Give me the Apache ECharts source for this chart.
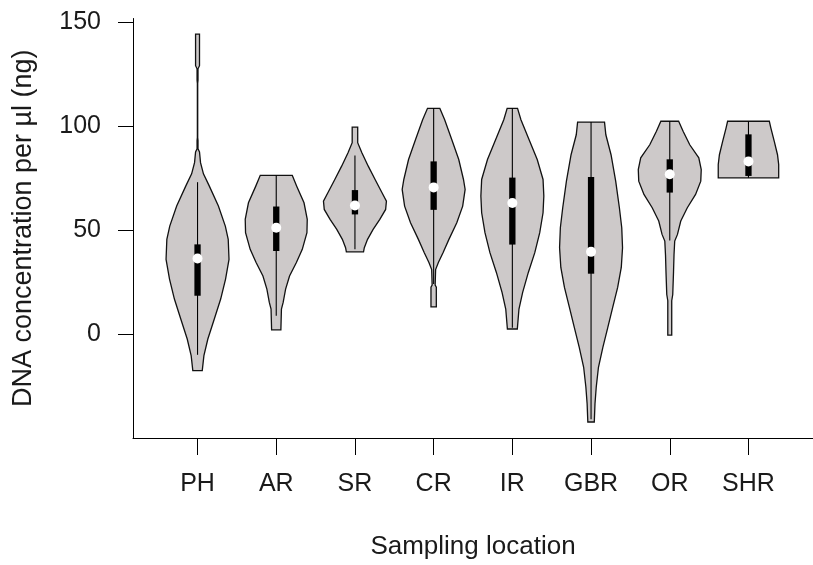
<!DOCTYPE html>
<html>
<head>
<meta charset="utf-8">
<script src="https://cdn.jsdelivr.net/npm/echarts@6/dist/echarts.min.js"></script>
<style>
  html, body { margin: 0; padding: 0; background: #fff; }
  #chart { width: 813px; height: 565px; }
</style>
</head>
<body>
<div id="chart"></div>
<script>
// Sampling locations along the x axis
const categories = ['PH', 'AR', 'SR', 'CR', 'IR', 'GBR', 'OR', 'SHR'];

// Box-plot summaries per location (ng/µl)
const medians     = [36.3, 51.1, 61.8, 70.5, 63.0, 39.5, 76.8, 83.0];
const q1          = [18.4, 39.9, 57.5, 59.7, 43.0, 29.0, 68.0, 76.0];
const q3          = [43.1, 61.3, 69.2, 83.0, 75.2, 75.5, 84.0, 96.0];
const whiskerLow  = [-10.0, 8.8, 40.7, 24.0, 3.0, -41.0, 45.0, 75.1];
const whiskerHigh = [73.0, 76.3, 85.8, 108.5, 108.5, 101.9, 102.3, 102.3];

// Kernel density outlines: concentration levels and scaled half-widths
const phLevels  = [144.2, 129, 127.5, 122, 120.5, 94.5, 93, 89, 87.5, 82.4, 77, 71.1, 61.5, 51.9, 45.5, 35.9, 26.4, 16.8, 7.2, -2.4, -10.4, -17.6];
const phWidths  = [0.025, 0.025, 0.006, 0.006, 0.002, 0.002, 0.006, 0.006, 0.025, 0.038, 0.075, 0.15, 0.265, 0.353, 0.39, 0.4, 0.356, 0.294, 0.213, 0.131, 0.081, 0.06];

const arLevels  = [76.3, 71.1, 63.1, 55.1, 48.7, 40.7, 34.4, 27.9, 21.6, 15.2, 12.0, 2.0];
const arWidths  = [0.203, 0.26, 0.353, 0.394, 0.39, 0.331, 0.256, 0.169, 0.119, 0.088, 0.066, 0.059];

const srLevels  = [99.5, 92, 87.1, 80.7, 74.3, 67.9, 63.9, 59.9, 55.1, 50.3, 45.5, 41.5, 39.5];
const srWidths  = [0.035, 0.035, 0.088, 0.169, 0.256, 0.344, 0.4, 0.39, 0.316, 0.231, 0.16, 0.119, 0.109];

const crLevels  = [108.5, 103, 93.4, 83.9, 74.3, 69.5, 61.5, 53.5, 45.5, 39.1, 34.4, 31, 23.5, 22.5, 13];
const crWidths  = [0.078, 0.14, 0.231, 0.319, 0.379, 0.4, 0.369, 0.294, 0.194, 0.119, 0.06, 0.025, 0.019, 0.034, 0.034];

const irLevels  = [108.5, 103, 93.4, 83.9, 74.3, 66.3, 58.3, 48.7, 39.1, 29.6, 20, 12, 2.4];
const irWidths  = [0.066, 0.109, 0.213, 0.316, 0.39, 0.4, 0.39, 0.348, 0.285, 0.203, 0.131, 0.084, 0.063];

const gbrLevels = [101.9, 95.8, 86.2, 73.5, 60.7, 51.1, 41.5, 32, 22.4, 12.8, 3.2, -6.4, -16, -25.5, -33.5, -42.3];
const gbrWidths = [0.171, 0.188, 0.254, 0.313, 0.36, 0.39, 0.4, 0.384, 0.338, 0.275, 0.213, 0.15, 0.094, 0.066, 0.05, 0.041];

const orLevels  = [102.3, 97.4, 91, 84.7, 79.1, 73.5, 67.1, 60.7, 54.3, 47.9, 44.7, 38, 30, 19, 16, -0.5];
const orWidths  = [0.113, 0.171, 0.254, 0.369, 0.4, 0.394, 0.328, 0.223, 0.14, 0.098, 0.063, 0.054, 0.048, 0.038, 0.025, 0.025];

const shrLevels = [102.3, 99, 92.6, 86.2, 81.5, 75.1];
const shrWidths = [0.265, 0.285, 0.328, 0.369, 0.384, 0.384];

// Y axis tick labels
const yTicks = [0, 50, 100, 150];

const outlines = [
  [phLevels, phWidths], [arLevels, arWidths], [srLevels, srWidths], [crLevels, crWidths],
  [irLevels, irWidths], [gbrLevels, gbrWidths], [orLevels, orWidths], [shrLevels, shrWidths]
];

const positions = categories.map((_, i) => i + 1);
const FONT = '"Liberation Sans", Arial, sans-serif';
const TEXT = '#1a1a1a';
const BOX_HALF = 0.04;

function renderViolin(params, api) {
  const i = params.dataIndex;
  const x = api.value(0);
  const [levels, widths] = outlines[i];
  const pts = [];
  for (let k = 0; k < levels.length; k++) pts.push(api.coord([x + widths[k], levels[k]]));
  for (let k = levels.length - 1; k >= 0; k--) pts.push(api.coord([x - widths[k], levels[k]]));

  const wTop = api.coord([x, whiskerHigh[i]]);
  const wBot = api.coord([x, whiskerLow[i]]);
  const bTL = api.coord([x - BOX_HALF, q3[i]]);
  const bBR = api.coord([x + BOX_HALF, q1[i]]);
  const med = api.coord([x, medians[i]]);

  return {
    type: 'group',
    children: [
      {
        type: 'polygon',
        shape: { points: pts },
        style: { fill: '#cdc9c9', stroke: '#111', lineWidth: 1.3 }
      },
      {
        type: 'line',
        shape: { x1: wTop[0], y1: wTop[1], x2: wBot[0], y2: wBot[1] },
        style: { stroke: '#000', lineWidth: 1.1 }
      },
      {
        type: 'rect',
        shape: { x: bTL[0], y: bTL[1], width: bBR[0] - bTL[0], height: bBR[1] - bTL[1] },
        style: { fill: '#000' }
      },
      {
        type: 'circle',
        shape: { cx: med[0], cy: med[1], r: 5 },
        style: { fill: '#fff' }
      }
    ]
  };
}

const chart = echarts.init(document.getElementById('chart'), null, { renderer: 'canvas' });
chart.setOption({
  animation: false,
  backgroundColor: '#fff',
  grid: { left: 133, top: 18.5, width: 692, height: 420.8 },
  xAxis: {
    type: 'value',
    min: 0.18,
    max: 8.82,
    name: 'Sampling location',
    nameLocation: 'middle',
    nameGap: 96,
    nameTextStyle: { fontFamily: FONT, fontSize: 26, color: TEXT },
    axisLine: { show: true, onZero: false, lineStyle: { color: '#000', width: 1 } },
    axisTick: { show: true, length: 17, lineStyle: { color: '#000' }, customValues: positions },
    axisLabel: {
      customValues: positions,
      margin: 34,
      fontFamily: FONT, fontSize: 25, color: TEXT,
      formatter: (v) => categories[Math.round(v) - 1] || ''
    },
    splitLine: { show: false }
  },
  yAxis: {
    type: 'value',
    min: -50,
    max: 151.7,
    name: 'DNA concentration per µl (ng)',
    nameLocation: 'middle',
    nameRotate: 90,
    nameGap: 96,
    nameTextStyle: { fontFamily: FONT, fontSize: 27, color: TEXT },
    axisLine: { show: true, onZero: false, lineStyle: { color: '#000', width: 1 } },
    axisTick: { show: true, length: 15, lineStyle: { color: '#000' }, customValues: yTicks },
    axisLabel: {
      customValues: yTicks,
      margin: 32,
      fontFamily: FONT, fontSize: 25, color: TEXT
    },
    splitLine: { show: false }
  },
  series: [{
    type: 'custom',
    renderItem: renderViolin,
    encode: { x: 0, y: 1 },
    data: positions.map((p, i) => [p, medians[i]]),
    clip: false
  }]
});
</script>
</body>
</html>
